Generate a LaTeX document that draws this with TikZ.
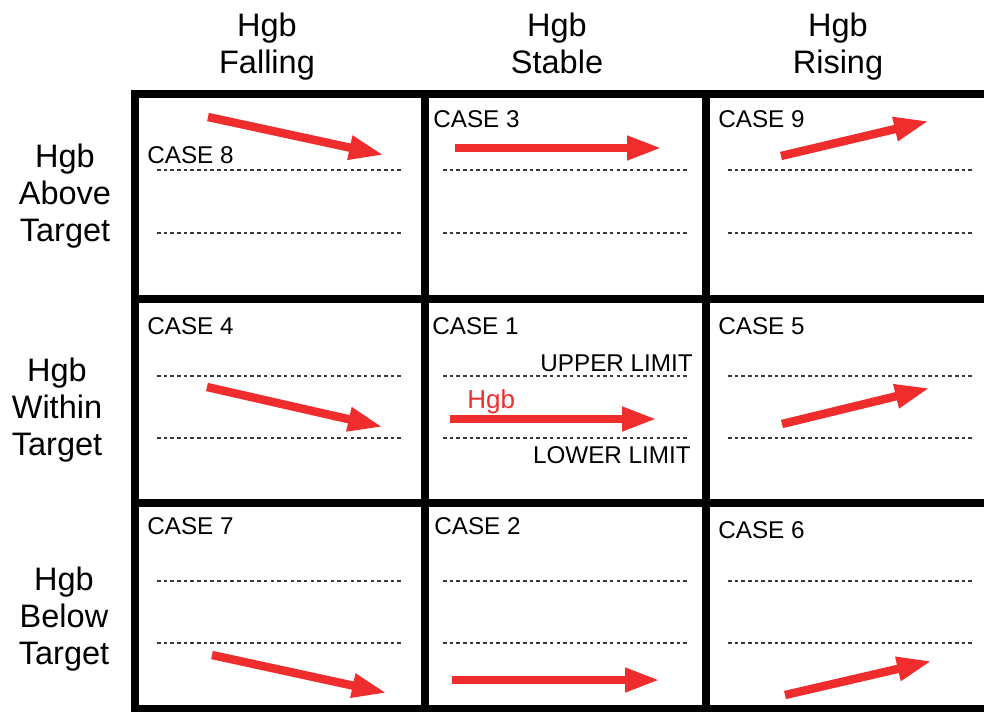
\documentclass[tikz,border=0pt]{standalone}
\usepackage{fontspec}
\setmainfont{Liberation Sans}
\usetikzlibrary{arrows.meta}
\definecolor{hgbred}{RGB}{240,45,45}

\begin{document}
\begin{tikzpicture}[x=0.02cm, y=-0.02cm,
    gridline/.style={line width=4.2pt},
    limitline/.style={line width=1.4pt, gray!45!black, dash pattern=on 2pt off 1.8pt},
    trend/.style={line width=4.8pt, hgbred, -{Triangle[length=0.7cm, width=0.45cm]}},
    heading/.style={align=center, font=\fontsize{18.5}{21}\selectfont, inner sep=0, anchor=base},
    caselabel/.style={anchor=base west, font=\fontsize{13.8}{16}\selectfont, inner sep=0},
    limitlabel/.style={anchor=base east, font=\fontsize{13.8}{16}\selectfont, inner sep=0}]
    \useasboundingbox (0,0) rectangle (984,711);
    \clip (0,0) rectangle (984,711);
    % headings (base = last line)
    \node[heading] (hfall) at (267,73) {Hgb\\Falling};
    \node[heading] (hstab) at (557,73) {Hgb\\Stable};
    \node[heading] (hrise) at (838,73) {Hgb\\Rising};
    \node[heading] (habove) at (65,241) {Hgb\\Above\\Target};
    \node[heading] (hwithin) at (57,455) {Hgb\\Within\\Target};
    \node[heading] (hbelow) at (64,664) {Hgb\\Below\\Target};
    % grid
    \draw[gridline] (135,94) rectangle (990,709);
    \draw[gridline] (425,94) -- (425,709);
    \draw[gridline] (706,94) -- (706,709);
    \draw[gridline] (135,299) -- (990,299);
    \draw[gridline] (135,503) -- (990,503);
    % row 1: above target
    \draw[limitline] (157,170) -- (403,170);
    \draw[limitline] (157,233) -- (403,233);
    \draw[limitline] (443,170) -- (690,170);
    \draw[limitline] (443,233) -- (690,233);
    \draw[limitline] (728,170) -- (975,170);
    \draw[limitline] (728,233) -- (975,233);
    \node[caselabel] (case8) at (147,163) {CASE 8};
    \node[caselabel] (case3) at (433,127) {CASE 3};
    \node[caselabel] (case9) at (718,127) {CASE 9};
    \coordinate (a8s) at (208,117); \coordinate (a8e) at (384,155);
    \coordinate (a3s) at (455,148); \coordinate (a3e) at (662,148);
    \coordinate (a9s) at (781,156); \coordinate (a9e) at (929,121);
    \draw[trend] (a8s) -- (a8e);
    \draw[trend] (a3s) -- (a3e);
    \draw[trend] (a9s) -- (a9e);
    % row 2: within target
    \draw[limitline] (157,376) -- (403,376);
    \draw[limitline] (157,438) -- (403,438);
    \draw[limitline] (443,376) -- (690,376);
    \draw[limitline] (443,438) -- (690,438);
    \draw[limitline] (728,376) -- (975,376);
    \draw[limitline] (728,438) -- (975,438);
    \node[caselabel] (case4) at (147,334) {CASE 4};
    \node[caselabel] (case1) at (432,334) {CASE 1};
    \node[caselabel] (case5) at (718,334) {CASE 5};
    \node[limitlabel] (upper) at (693,371) {UPPER LIMIT};
    \node[limitlabel] (lower) at (691,463) {LOWER LIMIT};
    \node[caselabel, text=hgbred, font=\fontsize{14.8}{17}\selectfont] (hgb) at (467,408) {Hgb};
    \coordinate (a4s) at (207,387); \coordinate (a4e) at (383,427);
    \coordinate (a1s) at (450,419); \coordinate (a1e) at (657,419);
    \coordinate (a5s) at (782,424); \coordinate (a5e) at (930,388);
    \draw[trend] (a4s) -- (a4e);
    \draw[trend] (a1s) -- (a1e);
    \draw[trend] (a5s) -- (a5e);
    % row 3: below target
    \draw[limitline] (157,581) -- (403,581);
    \draw[limitline] (157,643) -- (403,643);
    \draw[limitline] (443,581) -- (690,581);
    \draw[limitline] (443,643) -- (690,643);
    \draw[limitline] (728,581) -- (975,581);
    \draw[limitline] (728,643) -- (975,643);
    \node[caselabel] (case7) at (147,534) {CASE 7};
    \node[caselabel] (case2) at (434,534) {CASE 2};
    \node[caselabel] (case6) at (718,538) {CASE 6};
    \coordinate (a7s) at (212,655); \coordinate (a7e) at (387,693);
    \coordinate (a2s) at (452,680); \coordinate (a2e) at (660,680);
    \coordinate (a6s) at (785,695); \coordinate (a6e) at (932,661);
    \draw[trend] (a7s) -- (a7e);
    \draw[trend] (a2s) -- (a2e);
    \draw[trend] (a6s) -- (a6e);
\end{tikzpicture}
\end{document}
